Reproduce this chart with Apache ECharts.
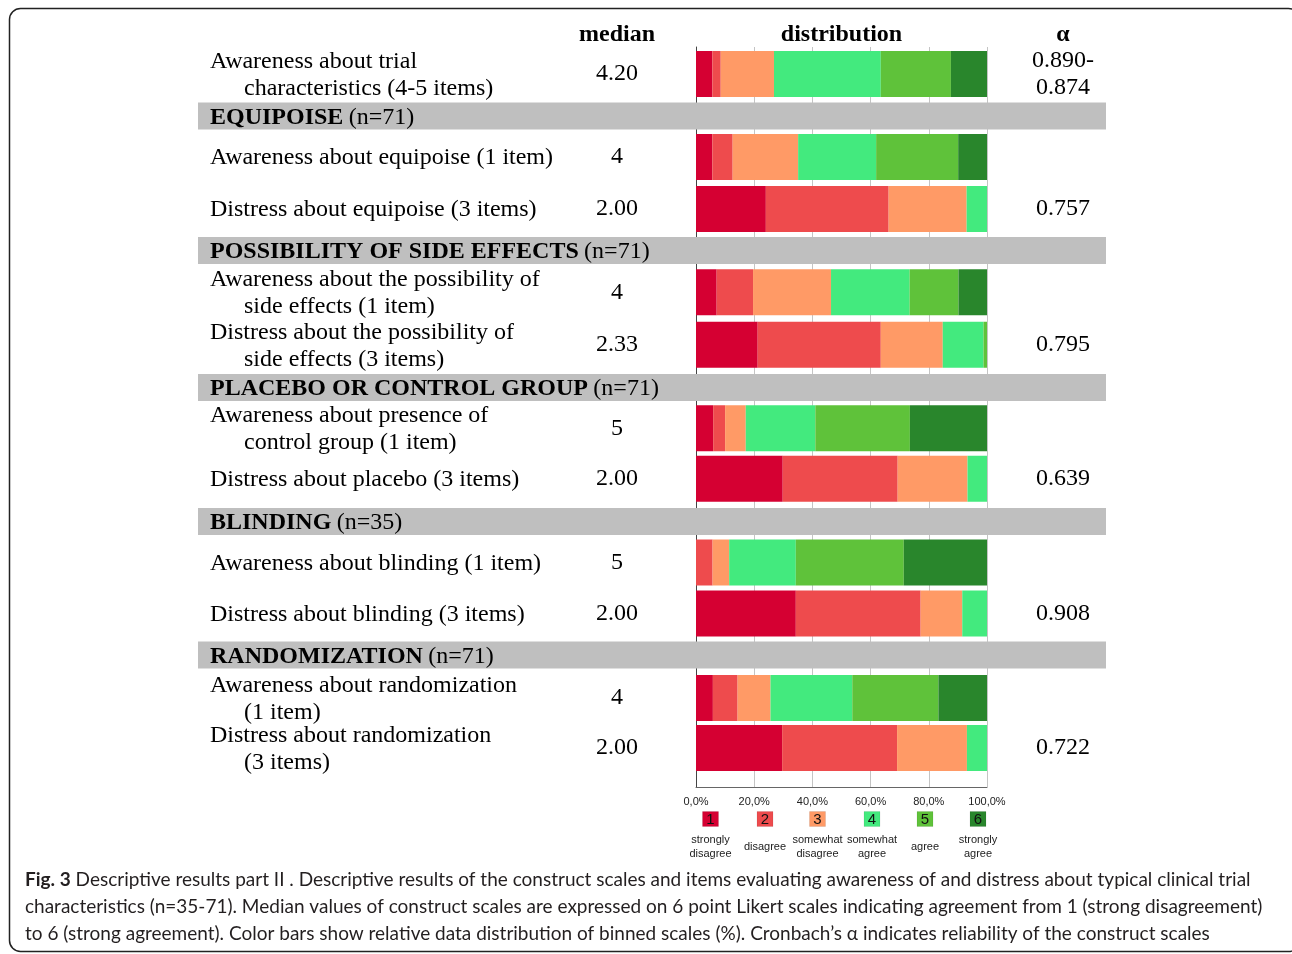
<!DOCTYPE html>
<html><head><meta charset="utf-8">
<script src="https://cdn.jsdelivr.net/npm/echarts@6/dist/echarts.min.js"></script>
<style>html,body{margin:0;padding:0;background:#fff}#c{width:1292px;height:954px}</style>
</head><body><div id="c"></div><script>
// ---------- data ----------
const sectionTitles = ['', 'EQUIPOISE', 'POSSIBILITY OF SIDE EFFECTS', 'PLACEBO OR CONTROL GROUP', 'BLINDING', 'RANDOMIZATION'];
const sectionN = ['', '(n=71)', '(n=71)', '(n=71)', '(n=35)', '(n=71)'];
const rowLabels = [
  'Awareness about trial\ncharacteristics (4-5 items)',
  'Awareness about equipoise (1 item)',
  'Distress about equipoise (3 items)',
  'Awareness about the possibility of\nside effects (1 item)',
  'Distress about the possibility of\nside effects (3 items)',
  'Awareness about presence of\ncontrol group (1 item)',
  'Distress about placebo (3 items)',
  'Awareness about blinding (1 item)',
  'Distress about blinding (3 items)',
  'Awareness about randomization\n(1 item)',
  'Distress about randomization\n(3 items)'
];
const rowSection = [0, 1, 1, 2, 2, 3, 3, 4, 4, 5, 5];
const medians = ['4.20', '4', '2.00', '4', '2.33', '5', '2.00', '5', '2.00', '4', '2.00'];
const alphas = ['0.890-\n0.874', '', '0.757', '', '0.795', '', '0.639', '', '0.908', '', '0.722'];
const levelNumbers = ['1', '2', '3', '4', '5', '6'];
const levelNames = ['strongly\ndisagree', 'disagree', 'somewhat\ndisagree', 'somewhat\nagree', 'agree', 'strongly\nagree'];
// percent of respondents per response level (rows in order of rowLabels)
const stronglyDisagree  = [5.6, 5.6, 24.0, 7.1, 21.2, 5.9, 29.8, 0.0, 34.3, 5.8, 29.6];
const disagree          = [2.9, 7.0, 42.2, 12.5, 42.3, 4.1, 39.5, 5.7, 42.9, 8.5, 39.5];
const somewhatDisagree  = [18.3, 22.5, 26.8, 26.8, 21.3, 7.1, 24.0, 5.7, 14.3, 11.3, 24.0];
const somewhatAgree     = [36.7, 26.8, 7.0, 27.0, 14.0, 23.9, 6.7, 22.9, 8.5, 28.1, 6.9];
const agree             = [24.1, 28.2, 0.0, 16.8, 1.2, 32.5, 0.0, 37.1, 0.0, 29.6, 0.0];
const stronglyAgree     = [12.4, 9.9, 0.0, 9.8, 0.0, 26.5, 0.0, 28.6, 0.0, 16.7, 0.0];
const tickLabels = ['0,0%', '20,0%', '40,0%', '60,0%', '80,0%', '100,0%'];
const headers = ['median', 'distribution', 'α'];
const captionLines = [
  ' Descriptive results part II . Descriptive results of the construct scales and items evaluating awareness of and distress about typical clinical trial',
  'characteristics (n=35-71). Median values of construct scales are expressed on 6 point Likert scales indicating agreement from 1 (strong disagreement)',
  'to 6 (strong agreement). Color bars show relative data distribution of binned scales (%). Cronbach’s α indicates reliability of the construct scales'
];

// ---------- styling / layout ----------
const levels = [stronglyDisagree, disagree, somewhatDisagree, somewhatAgree, agree, stronglyAgree];
const colors = ['#d50032', '#ee4b4d', '#ff9a66', '#43ea7e', '#5fc23a', '#29862c'];
const SERIF = '"Liberation Serif","Times New Roman",serif';
const SANS = '"Liberation Sans",Arial,sans-serif';
const CAP = 'Lato,"Open Sans",sans-serif';
const FS = 24;
const PLOT_L = 696, PLOT_R = 987;
const gridBoxes = [[51, 46], [131, 104], [266, 105], [403, 101], [537, 102], [673, 100]];
const bandBoxes = [null, [102.5, 27], [237, 27], [374, 27], [508, 27], [641.5, 27]];

const grids = [], xAxes = [], yAxes = [], series = [];
// background grid (split lines + bottom axis)
grids.push({left: PLOT_L, right: 1292 - PLOT_R, top: 47, height: 740});
xAxes.push({gridIndex: 0, type: 'value', min: 0, max: 100, interval: 20,
  axisLine: {show: true, lineStyle: {color: '#666', width: 1}},
  axisTick: {show: false},
  splitLine: {show: true, lineStyle: {color: '#c4c4c4', width: 1}},
  axisLabel: {margin: 9, fontSize: 11, fontFamily: SANS, color: '#222',
    formatter: v => tickLabels[Math.round(v / 20)]}});
yAxes.push({gridIndex: 0, type: 'value', min: 0, max: 1,
  axisLine: {show: true, lineStyle: {color: '#444', width: 1}},
  axisTick: {show: false}, splitLine: {show: false}, axisLabel: {show: false}});
series.push({type: 'line', xAxisIndex: 0, yAxisIndex: 0, data: [], silent: true});

const labelFont = {fontSize: FS, fontFamily: SERIF, color: '#000', lineHeight: 27};
gridBoxes.forEach((gb, g) => {
  const gi = g + 1;
  const rows = rowSection.map((s, i) => s === g ? i : -1).filter(i => i >= 0);
  grids.push({left: PLOT_L, right: 1292 - PLOT_R, top: gb[0], height: gb[1]});
  xAxes.push({gridIndex: gi, type: 'value', min: 0, max: 100, show: false});
  const cats = rows.map(r => rowLabels[r]);
  const base = yAxes.length;
  const hidden = {axisLine: {show: false}, axisTick: {show: false}, splitLine: {show: false}};
  yAxes.push(Object.assign({gridIndex: gi, type: 'category', inverse: true, data: cats, position: 'left',
    axisLabel: Object.assign({interval: 0, margin: PLOT_L - 210, align: 'left', padding: [2, 0, 0, 0],
      formatter: (v) => v.split('\n').map((l, k) => (k === 0 ? '{a|' : '{b|') + l + '}').join('\n'),
      rich: {a: Object.assign({}, labelFont), b: Object.assign({padding: [0, 0, 0, 34]}, labelFont)}}, labelFont)}, hidden));
  yAxes.push(Object.assign({gridIndex: gi, type: 'category', inverse: true, data: cats, position: 'left',
    axisLabel: Object.assign({interval: 0, margin: PLOT_L - 617, align: 'center', padding: [2, 0, 0, 0],
      formatter: (v, idx) => medians[rows[idx]]}, labelFont)}, hidden));
  yAxes.push(Object.assign({gridIndex: gi, type: 'category', inverse: true, data: cats, position: 'right',
    axisLabel: Object.assign({interval: 0, margin: 1063 - PLOT_R, align: 'center', padding: [2, 0, 0, 0],
      formatter: (v, idx) => alphas[rows[idx]]}, labelFont)}, hidden));
  levels.forEach((arr, k) => {
    series.push({type: 'bar', name: levelNames[k].replace('\n', ' '), xAxisIndex: gi, yAxisIndex: base,
      stack: 's' + g, barWidth: 46, silent: true,
      itemStyle: {color: colors[k]}, data: rows.map(r => arr[r])});
  });
});

// ---------- graphic elements (frame, bands, headers, legend, caption) ----------
const graphic = [];
graphic.push({type: 'rect', shape: {x: 9.5, y: 8.5, width: 1290, height: 943, r: 11}, z: 1,
  style: {fill: null, stroke: '#222', lineWidth: 1.5}});
headers.forEach((h, i) => {
  graphic.push({type: 'text', x: [617, (PLOT_L + PLOT_R) / 2, 1063][i], y: 35, z: 10,
    style: {text: h, fontSize: FS, fontWeight: 'bold', fontFamily: SERIF, fill: '#000', align: 'center', verticalAlign: 'middle'}});
});
bandBoxes.forEach((bb, s) => {
  if (!bb) return;
  graphic.push({type: 'rect', shape: {x: 198, y: bb[0], width: 908, height: bb[1]}, z: 5, style: {fill: '#bfbfbf'}});
  graphic.push({type: 'text', x: 210, y: bb[0] + bb[1] / 2 + 1.5, z: 6,
    style: {text: '{b|' + sectionTitles[s] + '} {n|' + sectionN[s] + '}', verticalAlign: 'middle', align: 'left',
      rich: {b: {fontSize: FS, fontWeight: 'bold', fontFamily: SERIF, fill: '#000'},
             n: {fontSize: FS, fontFamily: SERIF, fill: '#000', padding: [0, 0, 0, 2]}}}});
});
const legX = [710.5, 765, 817.5, 872, 925, 978];
levelNumbers.forEach((n, k) => {
  graphic.push({type: 'rect', shape: {x: legX[k] - 8, y: 811.5, width: 16, height: 15}, z: 10,
    style: {fill: colors[k], stroke: 'rgba(0,0,0,0.15)', lineWidth: 0.5}});
  graphic.push({type: 'text', x: legX[k], y: 819.5, z: 11,
    style: {text: n, fontSize: 15, fontFamily: SANS, fill: '#111', align: 'center', verticalAlign: 'middle'}});
  graphic.push({type: 'text', x: legX[k], y: 847, z: 11,
    style: {text: levelNames[k], fontSize: 11, lineHeight: 14, fontFamily: SANS, fill: '#222', align: 'center', verticalAlign: 'middle'}});
});
graphic.push({type: 'text', x: 25, y: 866.5, z: 10,
  style: {text: '{f|Fig. 3}{t|' + captionLines[0] + '}\n{t|' + captionLines[1] + '}\n{t|' + captionLines[2] + '}',
    align: 'left', verticalAlign: 'top', lineHeight: 27,
    rich: {f: {fontSize: 19, fontWeight: 'bold', fontFamily: CAP, fill: '#231f20', lineHeight: 27},
           t: {fontSize: 19, fontFamily: CAP, fill: '#231f20', lineHeight: 27}}}});

const chart = echarts.init(document.getElementById('c'), null, {renderer: 'canvas'});
chart.setOption({
  animation: false,
  backgroundColor: '#fff',
  grid: grids, xAxis: xAxes, yAxis: yAxes, series: series, graphic: graphic
});
</script></body></html>
